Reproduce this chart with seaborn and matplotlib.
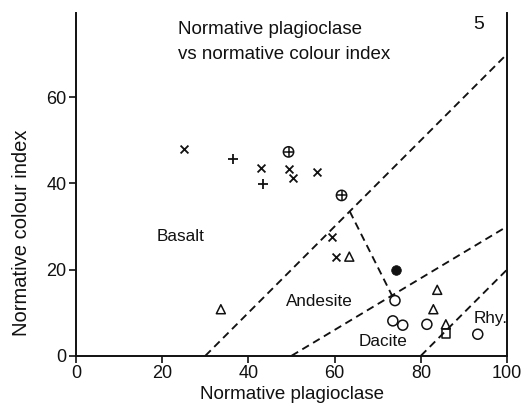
import matplotlib
matplotlib.use("Agg")
import matplotlib.pyplot as plt
import seaborn as sns

# ---- data (normative plagioclase, normative colour index) ----
cross_x = [25, 43, 49.3, 50.4, 56, 59.3, 60.3]
cross_y = [48, 43.6, 43.4, 41.3, 42.7, 27.6, 22.8]
plus_x = [36.5, 43.3]
plus_y = [45.7, 39.9]
oplus_x = [49.3, 61.6]
oplus_y = [47.3, 37.2]
tri_x = [33.6, 63.4, 83.8, 82.9, 85.8]
tri_y = [10.8, 23.0, 15.3, 10.8, 7.3]
circ_x = [74.0, 73.5, 75.8, 81.4, 93.2]
circ_y = [12.8, 8.1, 7.1, 7.3, 5.0]
dot_x = [74.2]
dot_y = [19.9]
sq_x = [85.8]
sq_y = [5.2]

# field boundaries
bound_basalt_x = [30, 100]
bound_basalt_y = [0, 70]
bound_andesite_x = [50, 100]
bound_andesite_y = [0, 30]
bound_dacite_x = [80, 100]
bound_dacite_y = [0, 20]
tie_x = [63.5, 73.3]
tie_y = [33.5, 14.0]

field_names = ["Basalt", "Andesite", "Dacite", "Rhy."]
field_x = [24.3, 56.5, 71.3, 96.1]
field_y = [27.6, 12.5, 3.4, 8.7]

sns.set_theme(style="ticks")
plt.rcParams["font.family"] = ["Liberation Sans", "DejaVu Sans"]

fig = plt.figure(figsize=(5.26, 4.08), dpi=100)
ax = fig.add_axes([0.1445, 0.128, 0.8195, 0.841])

ink = "#111111"
dash = (4.1, 2.6)
for bx, by in [(bound_basalt_x, bound_basalt_y),
               (bound_andesite_x, bound_andesite_y),
               (bound_dacite_x, bound_dacite_y),
               (tie_x, tie_y)]:
    sns.lineplot(x=bx, y=by, ax=ax, color=ink, lw=1.35, dashes=False,
                 linestyle=(0, dash), sort=False, estimator=None)

kw = dict(ax=ax, legend=False, zorder=3)
sns.scatterplot(x=cross_x, y=cross_y, marker="x", s=32, color=ink, linewidth=1.3, **kw)
sns.scatterplot(x=plus_x, y=plus_y, marker="+", s=55, color=ink, linewidth=1.3, **kw)
sns.scatterplot(x=oplus_x, y=oplus_y, marker="o", s=55, facecolor="none", edgecolor=ink, linewidth=1.1, **kw)
sns.scatterplot(x=oplus_x, y=oplus_y, marker="+", s=55, color=ink, linewidth=1.1, **kw)
sns.scatterplot(x=tri_x, y=tri_y, marker="^", s=42, facecolor="none", edgecolor=ink, linewidth=1.1, **kw)
sns.scatterplot(x=circ_x, y=circ_y, marker="o", s=52, facecolor="none", edgecolor=ink, linewidth=1.1, **kw)
sns.scatterplot(x=dot_x, y=dot_y, marker="o", s=48, color=ink, edgecolor=ink, **kw)
sns.scatterplot(x=sq_x, y=sq_y, marker="s", s=38, facecolor="none", edgecolor=ink, linewidth=1.1, **kw)

for name, fx, fy in zip(field_names, field_x, field_y):
    ax.text(fx, fy, name, ha="center", va="center", fontsize=12.3, color=ink)

ax.set_xlim(0, 100)
ax.set_ylim(0, 79.6)
ax.set_xticks([0, 20, 40, 60, 80, 100])
ax.set_yticks([0, 20, 40, 60])
ax.tick_params(direction="out", length=5, width=1.2, labelsize=13, colors=ink, pad=2)
for side in ["left", "bottom", "right"]:
    ax.spines[side].set_linewidth(1.4)
    ax.spines[side].set_color(ink)
ax.spines["top"].set_visible(False)
ax.spines["right"].set_visible(True)

ax.set_xlabel("Normative plagioclase", fontsize=13.5, color=ink)
ax.xaxis.set_label_coords(0.502, -0.088)
ax.set_ylabel("Normative colour index", fontsize=14.5, color=ink)
ax.yaxis.set_label_coords(-0.105, 0.358)

ax.text(0.236, 0.976, "Normative plagioclase\nvs normative colour index",
        transform=ax.transAxes, ha="left", va="top", fontsize=13.5,
        color=ink, linespacing=1.65)
ax.text(0.933, 0.99, "5", transform=ax.transAxes, ha="center", va="top",
        fontsize=14, color=ink)

fig.savefig("out.png", dpi=100)
